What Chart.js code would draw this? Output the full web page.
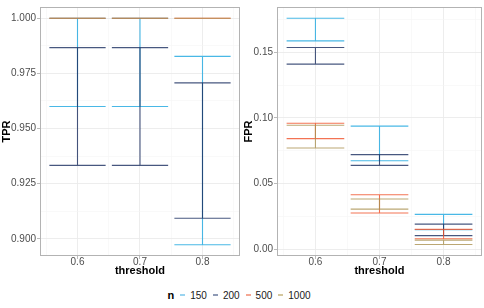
<!DOCTYPE html>
<html>
<head>
<meta charset="utf-8">
<script src="https://cdn.jsdelivr.net/npm/chart.js@4"></script>
<style>
  body { margin: 0; background: #fff; font-family: "Liberation Sans", Arial, sans-serif; }
  #wrap { position: relative; width: 484px; height: 308px; }
  .panel { position: absolute; top: 0; width: 242px; height: 282px; }
  #left { left: 0; }
  #right { left: 242px; }
  #legend { position: absolute; top: 287px; left: 0; width: 484px; height: 16px;
    display: flex; justify-content: center; align-items: center; font-size: 10px; color: #1a1a1a; }
  #legend b { font-size: 11px; margin-right: 6px; color: #000; }
  #legend .key { display: inline-block; width: 5px; height: 2px; margin-right: 5px; }
  #legend .lab { margin-right: 6px; }
</style>
</head>
<body>
<div id="wrap">
  <div class="panel" id="left"><canvas id="tpr"></canvas></div>
  <div class="panel" id="right"><canvas id="fpr"></canvas></div>
  <div id="legend"></div>
</div>
<script>
// DATA
const thresholds = [0.6, 0.7, 0.8];
const nLabels = ['150', '200', '500', '1000'];

const tprLow = [
  [0.960, 0.960, 0.8973],
  [0.9333, 0.9333, 0.9093],
  [1.000, 1.000, 1.000],
  [1.000, 1.000, 1.000],
];
const tprHigh = [
  [1.000, 1.000, 0.9827],
  [0.9867, 0.9867, 0.9707],
  [1.000, 1.000, 1.000],
  [1.000, 1.000, 1.000],
];

const fprLow = [
  [0.1587, 0.0674, 0.0149],
  [0.1410, 0.0639, 0.0104],
  [0.0843, 0.0276, 0.0080],
  [0.0771, 0.0306, 0.0037],
];
const fprHigh = [
  [0.1759, 0.0938, 0.0266],
  [0.1537, 0.0721, 0.0192],
  [0.0960, 0.0415, 0.0152],
  [0.0945, 0.0383, 0.0070],
];

const lineColors = [
  'rgba(41, 171, 226, 0.85)',
  'rgba(25, 45, 95, 0.8)',
  'rgba(240, 80, 40, 0.8)',
  'rgba(170, 145, 80, 0.8)',
];
const keyColors = ['#9ad4f0', '#8e9ab5', '#f5a793', '#d4c79e'];

const capHalf = 0.045;
const font = '"Liberation Sans", Arial, sans-serif';

// error bar path for one series: top cap, vertical, bottom cap
const errorBarPoints = (lows, highs) => {
  const pts = [];
  thresholds.forEach((t, i) => {
    pts.push({ x: t - capHalf, y: highs[i] }, { x: t + capHalf, y: highs[i] }, { x: t, y: null });
    pts.push({ x: t, y: highs[i] }, { x: t, y: lows[i] }, { x: t, y: null });
    pts.push({ x: t - capHalf, y: lows[i] }, { x: t + capHalf, y: lows[i] }, { x: t, y: null });
  });
  return pts;
};

const onStep = (v, step) => Math.abs(v / step - Math.round(v / step)) < 1e-6;

const panelBox = {
  id: 'panelBox',
  afterDatasetsDraw(chart) {
    const { ctx, chartArea: a } = chart;
    ctx.save();
    ctx.strokeStyle = '#b3b3b3';
    ctx.lineWidth = 1;
    ctx.strokeRect(Math.round(a.left) + 0.5, Math.round(a.top) + 0.5,
      Math.round(a.right - a.left) - 1, Math.round(a.bottom - a.top) - 1);
    ctx.restore();
  },
};

const makePanel = (id, lows, highs, yMin, yMax, yStep, decimals, title, yWidth) =>
  new Chart(document.getElementById(id), {
    type: 'line',
    data: {
      datasets: nLabels.map((n, i) => ({
        label: n,
        data: errorBarPoints(lows[i], highs[i]),
        borderColor: lineColors[i],
        borderWidth: 1.1,
        borderCapStyle: 'butt',
        pointRadius: 0,
        tension: 0,
        fill: false,
        spanGaps: false,
        order: nLabels.length - i,
      })),
    },
    options: {
      responsive: true,
      maintainAspectRatio: false,
      animation: false,
      events: [],
      layout: { padding: { top: 2, right: 2, left: 0, bottom: 0 } },
      plugins: { legend: false, tooltip: { enabled: false } },
      scales: {
        x: {
          type: 'linear',
          min: 0.54,
          max: 0.86,
          afterFit: (s) => { s.height = 26; },
          border: { display: false },
          grid: {
            color: (c) => (onStep(c.tick.value, 0.1) ? '#ebebeb' : '#f5f5f5'),
            lineWidth: (c) => (onStep(c.tick.value, 0.1) ? 0.9 : 0.6),
            tickColor: (c) => (onStep(c.tick.value, 0.1) ? '#b3b3b3' : 'rgba(0,0,0,0)'),
            tickLength: 3,
          },
          ticks: {
            stepSize: 0.05,
            includeBounds: false,
            autoSkip: false,
            maxRotation: 0,
            padding: -3,
            color: '#4d4d4d',
            font: { family: font, size: 10 },
            callback: (v) => (onStep(v, 0.1) ? v.toFixed(1) : ''),
          },
          title: {
            display: true,
            text: 'threshold',
            color: '#000',
            padding: { top: 0, bottom: 4 },
            font: { family: font, size: 11, weight: 'bold' },
          },
        },
        y: {
          min: yMin,
          max: yMax,
          afterFit: (s) => { s.width = yWidth; },
          border: { display: false },
          grid: {
            color: (c) => (onStep(c.tick.value, yStep * 2) ? '#ebebeb' : '#f5f5f5'),
            lineWidth: (c) => (onStep(c.tick.value, yStep * 2) ? 0.9 : 0.6),
            tickColor: (c) => (onStep(c.tick.value, yStep * 2) ? '#b3b3b3' : 'rgba(0,0,0,0)'),
            tickLength: 3,
          },
          ticks: {
            stepSize: yStep,
            includeBounds: false,
            autoSkip: false,
            padding: 1,
            color: '#4d4d4d',
            font: { family: font, size: 10 },
            callback: (v) => (onStep(v, yStep * 2) ? v.toFixed(decimals) : ''),
          },
          title: {
            display: true,
            text: title,
            color: '#000',
            padding: 0,
            font: { family: font, size: 11, weight: 'bold' },
          },
        },
      },
    },
    plugins: [panelBox],
  });

makePanel('tpr', tprLow, tprHigh, 0.8922, 1.0051, 0.0125, 3, 'TPR', 40);
makePanel('fpr', fprLow, fprHigh, -0.0051, 0.1845, 0.025, 2, 'FPR', 35);

// LEGEND
const legend = document.getElementById('legend');
legend.innerHTML = '<b>n</b>' + nLabels
  .map((n, i) => `<span class="key" style="background:${keyColors[i]}"></span><span class="lab">${n}</span>`)
  .join('');
</script>
</body>
</html>
